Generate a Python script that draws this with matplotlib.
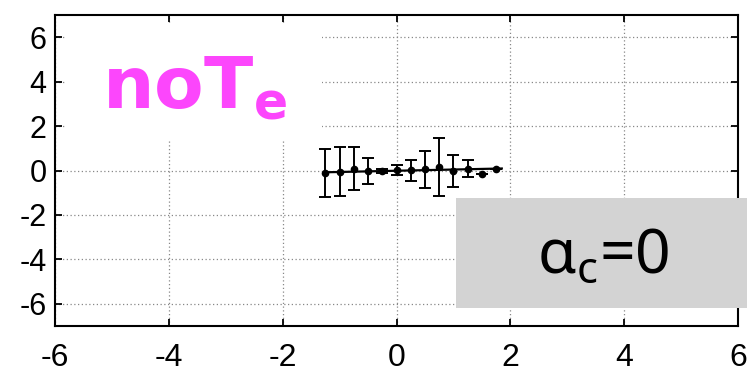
import matplotlib
matplotlib.use("Agg")
import matplotlib.pyplot as plt
from matplotlib.patches import Rectangle

# data
x_vals = [-1.25, -1.0, -0.75, -0.5, -0.25, 0.0, 0.25, 0.5, 0.75, 1.0, 1.25, 1.5, 1.75]
y_vals = [-0.11, -0.06, 0.09, -0.02, -0.02, 0.01, 0.01, 0.05, 0.16, -0.03, 0.09, -0.14, 0.09]
y_err = [1.1, 1.1, 0.98, 0.59, 0.11, 0.22, 0.47, 0.85, 1.31, 0.71, 0.38, 0.0, 0.0]
fit_x = [-1.25, 1.85]
fit_y = [-0.08, 0.09]
xticks = [-6, -4, -2, 0, 2, 4, 6]
yticks = [-6, -4, -2, 0, 2, 4, 6]
label_main = "noT"
label_sub = "e"
box_label = "α$_\\mathregular{c}$=0"

fig = plt.figure(figsize=(7.47, 3.73), dpi=100)
ax = fig.add_axes([55/747, 47/373, 683/747, 311/373])

ax.set_xlim(-6, 6)
ax.set_ylim(-7, 7)
ax.set_xticks(xticks)
ax.set_yticks(yticks)
ax.set_xticklabels([str(t) for t in xticks], family="Liberation Sans", fontsize=23)
ax.set_yticklabels([str(t) for t in yticks], family="Liberation Sans", fontsize=22)
ax.tick_params(direction="in", length=5, width=1.3, top=True, right=True)
ax.tick_params(axis="x", pad=12)
ax.tick_params(axis="y", pad=6)
for s in ax.spines.values():
    s.set_linewidth(1.5)

ax.grid(True, color="#888888", linestyle=(0, (1, 2)), linewidth=0.9)
ax.set_axisbelow(True)

ax.plot(fit_x, fit_y, color="black", lw=1.6, zorder=3)
ax.errorbar(x_vals, y_vals, yerr=y_err, fmt="o", color="black", ms=4.5,
            ecolor="black", elinewidth=1.4, capsize=4.5, capthick=1.4, zorder=4)

# white box behind "noTe"
ax.add_patch(Rectangle((0.015, 0.595), 0.376, 0.38, transform=ax.transAxes,
                       facecolor="white", edgecolor="none", zorder=2))
ax.text(102/747, 1 - 108/373, label_main + "$_\\mathregular{" + label_sub + "}$",
        transform=fig.transFigure, family="DejaVu Sans", fontweight="bold",
        fontsize=52, color="#fc46fc", ha="left", va="baseline", zorder=5)

# gray box
fig.patches.append(Rectangle((456/747, 65/373), 291/747, 110/373,
                             transform=fig.transFigure, facecolor="#d3d3d3",
                             edgecolor="none", zorder=5))
fig.text(603/747, 1 - 273/373, box_label, family="Noto Sans", fontsize=45,
         color="black", ha="center", va="baseline", zorder=6)

fig.savefig("out.png", dpi=100)
